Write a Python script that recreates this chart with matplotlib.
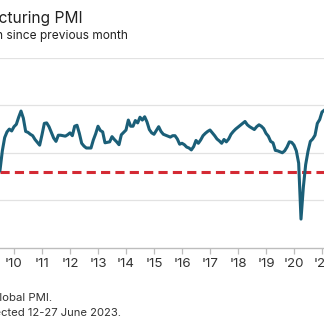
import matplotlib
matplotlib.use("Agg")
import matplotlib.pyplot as plt
import numpy as np
import pandas as pd

# Monthly manufacturing PMI readings, June 2009 onwards
start_month = "2009-06"
pmi = [
    45.5, 46.3, 50.4, 53.2, 54.4, 55.0, 54.6,              # Jun-Dec 2009
    55.5, 56.0, 57.5, 58.8, 57.3, 54.5, 54.3, 53.9, 53.6, 52.8, 52.2, 51.6,  # 2010
    53.8, 56.2, 56.3, 55.5, 54.3, 53.1, 52.4, 53.7, 53.7, 53.6, 53.5, 53.8,  # 2011
    54.2, 53.6, 55.6, 55.8, 54.1, 52.0, 51.4, 51.0, 51.0, 51.0, 52.7, 54.0,  # 2012
    55.6, 54.7, 54.4, 52.1, 52.2, 52.3, 53.4, 52.8, 52.3, 51.7, 53.8, 54.3,  # 2013
    54.8, 56.9, 55.6, 55.6, 56.8, 56.3, 57.5, 56.9, 57.6, 56.5, 54.9, 54.2,  # 2014
    53.9, 54.7, 55.5, 54.5, 53.9, 53.7, 53.5, 53.3, 53.6, 53.6, 52.9, 51.8,  # 2015
    52.0, 51.7, 51.2, 51.0, 50.6, 51.3, 52.6, 52.0, 52.7, 53.6, 54.1, 54.5,  # 2016
    54.8, 54.2, 53.6, 52.9, 52.5, 52.0, 52.8, 52.3, 52.9, 53.9, 54.5, 55.0,  # 2017
    55.4, 55.8, 56.2, 56.6, 55.9, 55.5, 55.2, 54.9, 55.5, 55.9, 55.6, 55.1,  # 2018
    54.1, 53.5, 52.4, 52.1, 50.5, 50.4, 50.2, 50.0, 50.4, 51.2, 52.3, 52.2,  # 2019
    51.6, 50.4, 47.8, 36.0, 42.7, 47.5, 50.3, 52.4, 52.9, 53.7, 56.2, 57.0,  # 2020
    58.6, 59.0, 59.2,                                      # 2021
]
reference_level = 45.9
grid_levels = [30, 40, 50, 60, 70]
year_ticks = list(range(2010, 2022))
year_labels = ["'" + str(y)[2:] for y in year_ticks]

title = "US Manufacturing PMI"
subtitle = "sa, >50 = growth since previous month"
source_lines = ["Source: S&P Global PMI.", "Data were collected 12-27 June 2023."]

dates = pd.period_range(start_month, periods=len(pmi), freq="M")
x = np.array([d.year + (d.month - 1) / 12 for d in dates])

W, H = 324, 323
fig = plt.figure(figsize=(W / 100, H / 100), dpi=100)
fig.patch.set_facecolor("white")
plt.rcParams["font.family"] = ["Inter", "DejaVu Sans"]

ax_bottom = (H - 247.5) / H
ax_top = (H - 58) / H
ax = fig.add_axes([0, ax_bottom, 1, ax_top - ax_bottom])
ax.set_xlim(2009.5, 2010 + 310 / 28)
ax.set_ylim(grid_levels[0], grid_levels[-1])

for g in grid_levels[1:]:
    ax.axhline(g, color="#e2e2e2", lw=0.9, zorder=1)

ax.axhline(reference_level, color="#d42a34", lw=2.2,
           linestyle=(0, (3.0, 1.7)), zorder=2)
ax.plot(x, pmi, color="#1b5f78", lw=2.2, solid_joinstyle="round", zorder=3)

for side in ["top", "right", "left"]:
    ax.spines[side].set_visible(False)
ax.spines["bottom"].set_color("#bdbdbd")
ax.spines["bottom"].set_linewidth(1.0)
ax.set_yticks([])
ax.set_xticks(year_ticks)
ax.set_xticklabels(year_labels, fontsize=9.6, color="#333333")
ax.tick_params(axis="x", length=4, width=0.9, color="#bdbdbd", pad=3.5)

# Heading and footnotes, right-aligned to where each line ends
fig.text(83 / W, 1 - 22.5 / H, title, ha="right", va="baseline",
         fontsize=11.2, color="#222222")
fig.text(128 / W, 1 - 39 / H, subtitle, ha="right", va="baseline",
         fontsize=8.6, color="#222222")
fig.text(52 / W, 1 - 301 / H, source_lines[0], ha="right", va="baseline",
         fontsize=8.2, color="#333333")
fig.text(121 / W, 1 - 316.5 / H, source_lines[1], ha="right", va="baseline",
         fontsize=8.1, color="#333333")

fig.savefig("out.png", dpi=100, facecolor="white")
